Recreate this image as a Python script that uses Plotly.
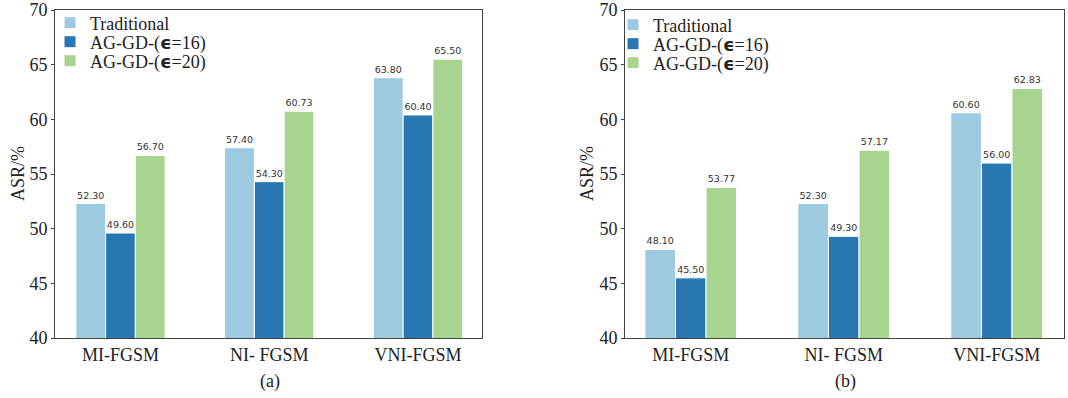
import plotly.graph_objects as go

categories = ["MI-FGSM", "NI- FGSM", "VNI-FGSM"]
series_names = ["Traditional", "AG-GD-(ϵ=16)", "AG-GD-(ϵ=20)"]
a_traditional = [52.30, 57.40, 63.80]
a_eps16 = [49.60, 54.30, 60.40]
a_eps20 = [56.70, 60.73, 65.50]
b_traditional = [48.10, 52.30, 60.60]
b_eps16 = [45.50, 49.30, 56.00]
b_eps20 = [53.77, 57.17, 62.83]
y_ticks = [40, 45, 50, 55, 60, 65, 70]
panel_labels = ["(a)", "(b)"]

W, H = 1068, 398
colors = ["#9dcae0", "#2977b0", "#a7d58f"]
eps_html = '<span style="font-family:DejaVu Sans;font-weight:bold">ϵ</span>'
legend_names = [n.replace("ϵ", eps_html) for n in series_names]

serif = "Liberation Serif"
txt_color = "#222222"

fig = go.Figure()
panels = [
    (a_traditional, a_eps16, a_eps20),
    (b_traditional, b_eps16, b_eps20),
]
# legend item positions (left x of legend box, row centre y) in pixels
legend_x = [50, 613]
legend_rows = [[23, 42, 61], [25, 44, 63]]
legends_layout = {}
k = 0
for p, data in enumerate(panels):
    for i, vals in enumerate(data):
        k += 1
        lname = "legend" if k == 1 else f"legend{k}"
        fig.add_trace(go.Bar(
            x=categories, y=vals,
            name=legend_names[i],
            showlegend=True,
            marker=dict(color=colors[i], line=dict(color="white", width=1)),
            text=[f"{v:.2f}" for v in vals],
            textposition="outside",
            constraintext="none",
            cliponaxis=False,
            textfont=dict(family="DejaVu Sans", size=9.5, color="#333333"),
            xaxis="x" if p == 0 else "x2",
            yaxis="y" if p == 0 else "y2",
            legend=lname,
            offsetgroup=str(i),
        ))
        legends_layout[lname] = dict(
            x=legend_x[p] / W, y=1 - legend_rows[p][i] / H,
            xanchor="left", yanchor="middle", bgcolor="rgba(0,0,0,0)",
            font=dict(family=serif, size=18, color=txt_color),
            visible=True,
        )

axis_common = dict(
    showline=True, linecolor="#444444", linewidth=1, mirror=True,
    showgrid=False, zeroline=False, automargin=False,
    tickfont=dict(family=serif, size=18, color=txt_color),
)
x_common = dict(ticks="", **axis_common)
y_common = dict(ticks="outside", ticklen=3, tickcolor="#444444", range=[40, 70],
                tickvals=y_ticks, **axis_common)

ann_font = dict(family=serif, size=18, color=txt_color)
ydom = [60 / H, 388 / H]
fig.update_layout(
    width=W, height=H,
    showlegend=True,
    margin=dict(l=0, r=0, t=0, b=0, autoexpand=False),
    plot_bgcolor="white", paper_bgcolor="white",
    barmode="group", bargap=0.4, bargroupgap=0,
    xaxis=dict(domain=[55 / W, 482 / W], range=[-0.44, 2.43], anchor="y", **x_common),
    yaxis=dict(domain=ydom, anchor="x", **y_common),
    xaxis2=dict(domain=[625 / W, 1064 / W], range=[-0.43, 2.44], anchor="y2", **x_common),
    yaxis2=dict(domain=ydom, anchor="x2", **y_common),
    annotations=[
        dict(text="ASR/%", textangle=-90, x=18 / W, y=1 - 174 / H, xref="paper", yref="paper",
             xanchor="center", yanchor="middle", showarrow=False, font=ann_font),
        dict(text="ASR/%", textangle=-90, x=587 / W, y=1 - 174 / H, xref="paper", yref="paper",
             xanchor="center", yanchor="middle", showarrow=False, font=ann_font),
        dict(text=panel_labels[0], x=270 / W, y=1 - 381 / H, xref="paper", yref="paper",
             xanchor="center", yanchor="middle", showarrow=False, font=ann_font),
        dict(text=panel_labels[1], x=845 / W, y=1 - 381 / H, xref="paper", yref="paper",
             xanchor="center", yanchor="middle", showarrow=False, font=ann_font),
    ],
    **legends_layout,
)

fig.write_html("out.html", config={"displayModeBar": False},
               post_script="document.body.style.margin='0';")
